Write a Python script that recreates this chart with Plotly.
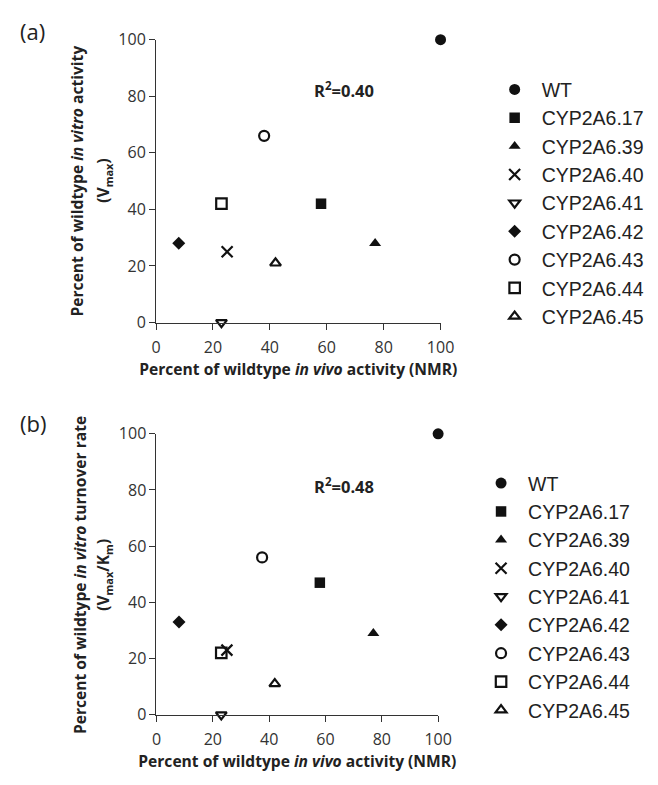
import plotly.graph_objects as go

variants = ["WT", "CYP2A6.17", "CYP2A6.39", "CYP2A6.40", "CYP2A6.41",
            "CYP2A6.42", "CYP2A6.43", "CYP2A6.44", "CYP2A6.45"]
symbols = ["circle", "square", "triangle-up", "x-thin-open", "triangle-down-open",
           "diamond", "circle-open", "square-open", "triangle-up-open"]
marker_sizes = [11, 10.5, 10.5, 11, 9.5, 10, 10, 10.5, 9.5]

in_vivo_nmr = [100, 58, 77, 25, 23, 8, 38, 23, 42]
vmax_pct = [100, 42, 28, 25, 0, 28, 66, 42, 21]

in_vivo_nmr_b = [100, 58, 77, 25, 23, 8, 37.5, 23, 42]
turnover_pct = [100, 47, 29, 23, 0, 33, 56, 22, 11]

x_ticks = [0, 20, 40, 60, 80, 100]
y_ticks = [0, 20, 40, 60, 80, 100]

W, H = 658, 785
INK = "#111111"
AX = "#333333"
TXT = "#222222"
FONT = "Open Sans"

fig = go.Figure()


def add_panel(xs, ys, xa, ya, legend):
    for name, sym, sz, xv, yv in zip(variants, symbols, marker_sizes, xs, ys):
        is_open = sym.endswith("-open")
        fig.add_trace(go.Scatter(
            x=[xv], y=[yv], mode="markers", name=name,
            xaxis=xa, yaxis=ya, legend=legend, cliponaxis=False,
            marker=dict(symbol=sym, size=sz, color=INK,
                        line=dict(color=INK, width=2.2 if is_open else 0)),
            showlegend=True,
        ))


add_panel(in_vivo_nmr, vmax_pct, "x", "y", "legend")
add_panel(in_vivo_nmr_b, turnover_pct, "x2", "y2", "legend2")


def px_x(p):
    return p / W


def px_y(p):
    return 1 - p / H


axis_common = dict(
    range=[0, 100], ticks="outside", ticklen=6, tickwidth=1,
    tickcolor=AX, showline=True, linecolor=AX, linewidth=1, showgrid=False,
    zeroline=False, tickfont=dict(family=FONT, size=16, color="#333333"),
)

xtitle = "Percent of wildtype <i>in vivo</i> activity (NMR)"
title_font = dict(family=FONT, size=15.6, color=TXT, weight="bold")
legend_font = dict(family="Liberation Sans", size=19.5, color=TXT)

fig.update_layout(
    width=W, height=H, margin=dict(l=0, r=0, t=0, b=0),
    paper_bgcolor="white", plot_bgcolor="white",
    xaxis=dict(domain=[px_x(155.5), px_x(448.5)], anchor="y", ticklabelstandoff=4,
               tickvals=x_ticks,
               title=dict(text=xtitle, font=title_font, standoff=7), **axis_common),
    yaxis=dict(domain=[px_y(320.5), px_y(29.5)], anchor="x", tickvals=y_ticks,
               **axis_common),
    xaxis2=dict(domain=[px_x(156), px_x(446)], anchor="y2", ticklabelstandoff=4,
                tickvals=x_ticks,
                title=dict(text=xtitle, font=title_font, standoff=7), **axis_common),
    yaxis2=dict(domain=[px_y(724), px_y(435)], anchor="x2", tickvals=y_ticks,
                **axis_common),
    legend=dict(x=px_x(497), y=px_y(61), xanchor="left", yanchor="top",
                itemwidth=44, font=legend_font,
                bgcolor="rgba(0,0,0,0)", borderwidth=0),
    legend2=dict(x=px_x(483), y=px_y(466), xanchor="left", yanchor="top",
                 itemwidth=44, font=legend_font,
                 bgcolor="rgba(0,0,0,0)", borderwidth=0),
    showlegend=True,
)


def note(text, x, y, size, xanchor="center", angle=0, weight="normal"):
    fig.add_annotation(text=text, x=px_x(x), y=px_y(y), xref="paper", yref="paper",
                       xanchor=xanchor, yanchor="middle", showarrow=False,
                       textangle=angle,
                       font=dict(family=FONT, size=size, color=TXT, weight=weight))


# y-axis titles (two lines each, rotated)
note("Percent of wildtype <i>in vitro</i> activity", 74, 174.5, 15.6, angle=-90, weight="bold")
note("(V<sub>max</sub>)", 102, 174.5, 15.6, angle=-90, weight="bold")
note("Percent of wildtype <i>in vitro</i> turnover rate", 76.5, 580, 15.6, angle=-90, weight="bold")
note("(V<sub>max</sub>/K<sub>m</sub>)", 102, 580, 15.6, angle=-90, weight="bold")

# panel labels
note("(a)", 13, 21, 22, xanchor="left")
note("(b)", 13, 424, 22, xanchor="left")

# R squared
note("R<sup>2</sup>=0.40", 316, 81, 16.5, xanchor="left", weight="bold")
note("R<sup>2</sup>=0.48", 316, 489, 16.5, xanchor="left", weight="bold")

fig.write_html(
    "out.html",
    config={"displayModeBar": False},
    post_script="document.body.style.margin='0px';document.body.style.overflow='hidden';",
)
